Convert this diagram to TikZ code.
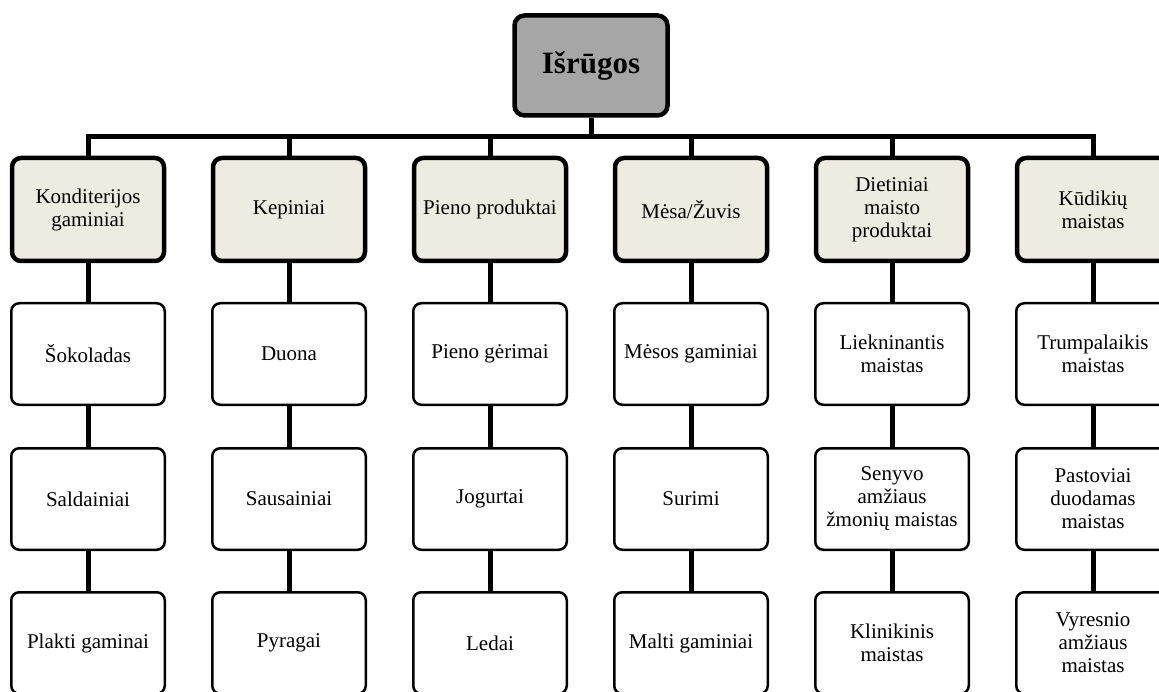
\documentclass[tikz,border=0pt]{standalone}
\usepackage{fontspec}
\setmainfont{Liberation Serif}
\definecolor{topgray}{HTML}{A6A6A6}
\definecolor{headfill}{HTML}{EEECE1}
\tikzset{
  topbox/.style={draw, line width=4.5pt, rounded corners=10pt, fill=topgray, minimum width=153pt, minimum height=100pt, inner sep=0pt, font=\fontsize{31}{34}\selectfont\bfseries},
  headbox/.style={draw, line width=4.5pt, rounded corners=9pt, fill=headfill, minimum width=152pt, minimum height=103pt, inner sep=0pt, align=center, font=\fontsize{21}{23}\selectfont},
  itembox/.style={draw, line width=2.5pt, rounded corners=8pt, fill=white, minimum width=153.5pt, minimum height=101.5pt, inner sep=0pt, align=center, font=\fontsize{21}{23}\selectfont},
  conn/.style={line width=5pt},
}
\begin{document}
\begin{tikzpicture}[x=1pt,y=-1pt]
\useasboundingbox (0,0) rectangle (1159,692);
% top
\node[topbox] (top) at (591,65.5) {Išrūgos};
\coordinate (bus) at (591,137);
% headers
\node[headbox] (h1) at (88,209.5) {Konditerijos\\gaminiai};
\node[headbox] (h2) at (289,209.5) {Kepiniai};
\node[headbox] (h3) at (490,209.5) {Pieno produktai};
\node[headbox] (h4) at (691,209.5) {Mėsa/Žuvis};
\node[headbox] (h5) at (892,209.5) {Dietiniai\\maisto\\produktai};
\node[headbox] (h6) at (1093,209.5) {Kūdikių\\maistas};
% level 2
\node[itembox] (a1) at (88,354) {Šokoladas};
\node[itembox] (a2) at (289,354) {Duona};
\node[itembox] (a3) at (490,354) {Pieno gėrimai};
\node[itembox] (a4) at (691,354) {Mėsos gaminiai};
\node[itembox] (a5) at (892,354) {Liekninantis\\maistas};
\node[itembox] (a6) at (1093,354) {Trumpalaikis\\maistas};
% level 3
\node[itembox] (b1) at (88,499) {Saldainiai};
\node[itembox] (b2) at (289,499) {Sausainiai};
\node[itembox] (b3) at (490,499) {Jogurtai};
\node[itembox] (b4) at (691,499) {Surimi};
\node[itembox] (b5) at (892,499) {Senyvo\\amžiaus\\žmonių maistas};
\node[itembox] (b6) at (1093,499) {Pastoviai\\duodamas\\maistas};
% level 4
\node[itembox] (c1) at (88,643) {Plakti gaminai};
\node[itembox] (c2) at (289,643) {Pyragai};
\node[itembox] (c3) at (490,643) {Ledai};
\node[itembox] (c4) at (691,643) {Malti gaminiai};
\node[itembox] (c5) at (892,643) {Klinikinis\\maistas};
\node[itembox] (c6) at (1093,643) {Vyresnio\\amžiaus\\maistas};
% connectors
\draw[conn] (top.south) -- (bus);
\draw[conn] (h1.north) -- (h1.north |- bus) -- (h6.north |- bus) -- (h6.north);
\foreach \i in {2,3,4,5} {
  \draw[conn] (h\i.north) -- (h\i.north |- bus);
}
\foreach \i in {1,...,6} {
  \draw[conn] (h\i.south) -- (a\i.north);
  \draw[conn] (a\i.south) -- (b\i.north);
  \draw[conn] (b\i.south) -- (c\i.north);
}
\end{tikzpicture}
\end{document}
